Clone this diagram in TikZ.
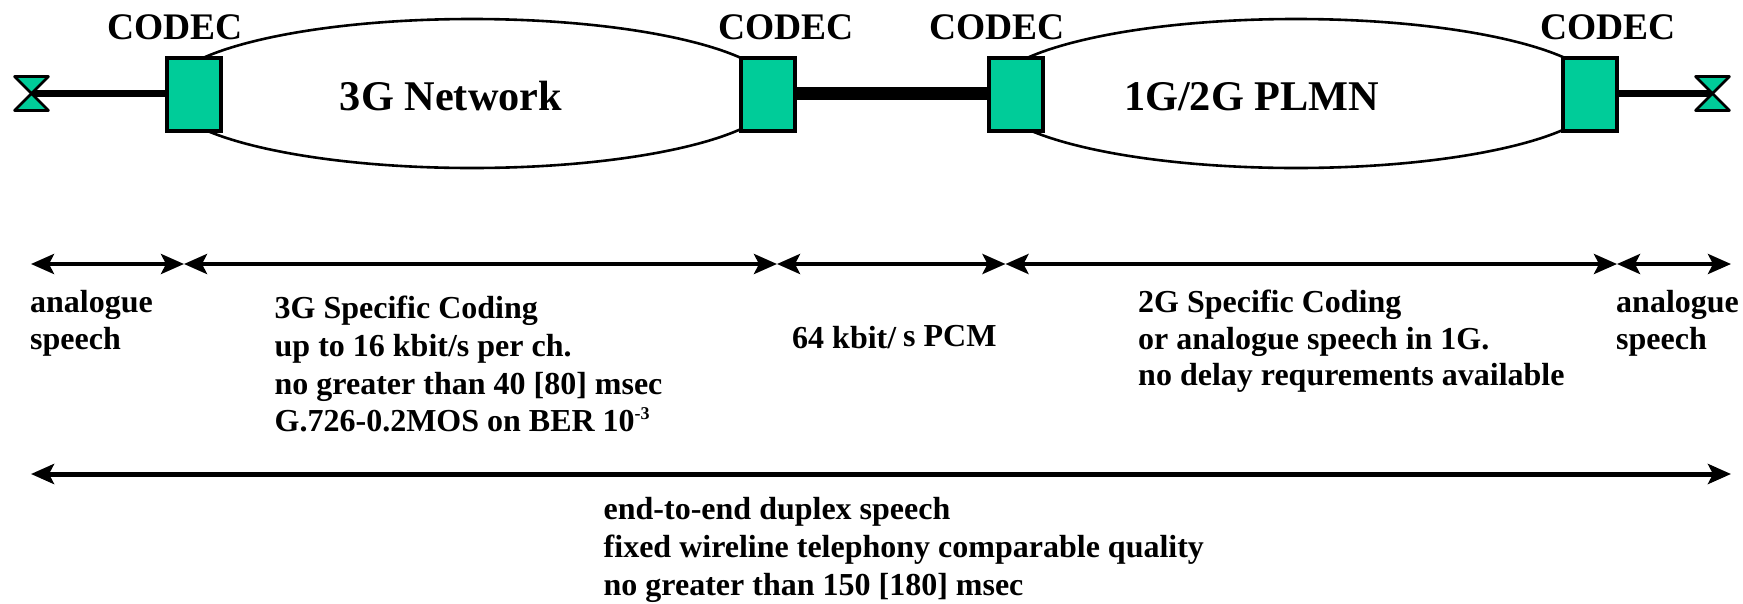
\documentclass[tikz,border=0pt]{standalone}
\usepackage{fontspec}
\setmainfont{Liberation Serif}
\usetikzlibrary{arrows.meta}
\definecolor{codecgreen}{HTML}{00CC99}
\newcommand{\fsz}[2]{\fontsize{#1}{#2}\selectfont\bfseries}
\tikzset{
  x=1pt,y=-1pt,
  codec/.style={draw=black,line width=4pt,fill=codecgreen,minimum width=54pt,minimum height=73pt,inner sep=0pt,outer sep=0pt},
  cloud/.style={draw=black,line width=2.6pt,fill=white},
  codeclabel/.style={anchor=base,inner sep=0pt,font=\fsz{37.5}{40}},
  nettext/.style={anchor=base,inner sep=0pt,font=\fsz{42.3}{46}},
  note/.style={anchor=base west,inner sep=0pt,align=left},
  bow/.style={draw=black,line width=2.6pt,fill=codecgreen,line join=round},
  span/.style={line width=4pt,{Stealth[length=23pt,width=20pt,inset=5pt]}-{Stealth[length=23pt,width=20pt,inset=5pt]},shorten <=0pt,shorten >=0pt},
}
\begin{document}
\begin{tikzpicture}
\useasboundingbox (0,0) rectangle (1743,603);
% clouds
\draw[cloud] (472,93.5) ellipse [x radius=306,y radius=74.5];
\draw[cloud] (1296,93.5) ellipse [x radius=306,y radius=74.5];
% codecs
\node[codec] (c1) at (194,94.5) {};
\node[codec] (c2) at (767.5,94.5) {};
\node[codec] (c3) at (1016,94.5) {};
\node[codec] (c4) at (1589.5,94.5) {};
% terminals
\coordinate (tl) at (31.5,93.5);
\coordinate (tr) at (1712.5,93.5);
\draw[line width=7pt] (tl) -- (tl -| c1.west);
\draw[line width=7pt] (tr -| c4.east) -- (tr);
\draw[line width=12.5pt] (tl -| c2.east) -- (tl -| c3.west);
\draw[bow] (tl) -- ++(-17,-17) -- ++(34,0) -- cycle;
\draw[bow] (tl) -- ++(-17,17) -- ++(34,0) -- cycle;
\draw[bow] (tr) -- ++(-17,-17) -- ++(34,0) -- cycle;
\draw[bow] (tr) -- ++(-17,17) -- ++(34,0) -- cycle;
% labels
\node[codeclabel] (l1) at (175,39) {CODEC};
\node[codeclabel] (l2) at (786,39) {CODEC};
\node[codeclabel] (l3) at (997,39) {CODEC};
\node[codeclabel] (l4) at (1608,39) {CODEC};
\node[nettext] (n1) at (451,110) {3G Network};
\node[nettext] (n2) at (1251.5,110) {1G/2G PLMN};
% spans
\coordinate (a0) at (31,264);
\coordinate (a1) at (184,264);
\coordinate (a2) at (777,264);
\coordinate (a3) at (1005.5,264);
\coordinate (a4) at (1617,264);
\coordinate (a5) at (1731,264);
\coordinate (b0) at (31,474);
\coordinate (b1) at (1731,474);
\draw[span] (a0) -- (a1);
\draw[span] (a1) -- (a2);
\draw[span] (a2) -- (a3);
\draw[span] (a3) -- (a4);
\draw[span] (a4) -- (a5);
\draw[span,line width=5pt] (b0) -- (b1);
% notes
\node[note,anchor=north west,font=\fsz{32}{37}] (t1) at (30,290) {analogue\\speech};
\node[note,anchor=north west,font=\fsz{32}{37.7}] (t2) at (274.5,296) {3G Specific Coding\\up to 16 kbit/s per ch.\\no greater than 40 [80] msec\\G.726-0.2MOS on BER 10\raisebox{12pt}{\fontsize{18}{18}\selectfont -3}};
\node[note,font=\fsz{32}{37}] (t3) at (792,348) {64 kbit/\hspace{7pt}\raisebox{2pt}{s PCM}};
\node[note,anchor=north west,font=\fsz{32}{36.5}] (t4) at (1138,290) {2G Specific Coding\\or analogue speech in 1G.\\no delay requrements available};
\node[note,anchor=north west,font=\fsz{32}{37}] (t5) at (1616,290) {analogue\\speech};
\node[note,anchor=north west,font=\fsz{32}{38}] (t6) at (603.5,497.5) {end-to-end duplex speech\\fixed wireline telephony comparable quality\\no greater than 150 [180] msec};
\end{tikzpicture}
\end{document}
